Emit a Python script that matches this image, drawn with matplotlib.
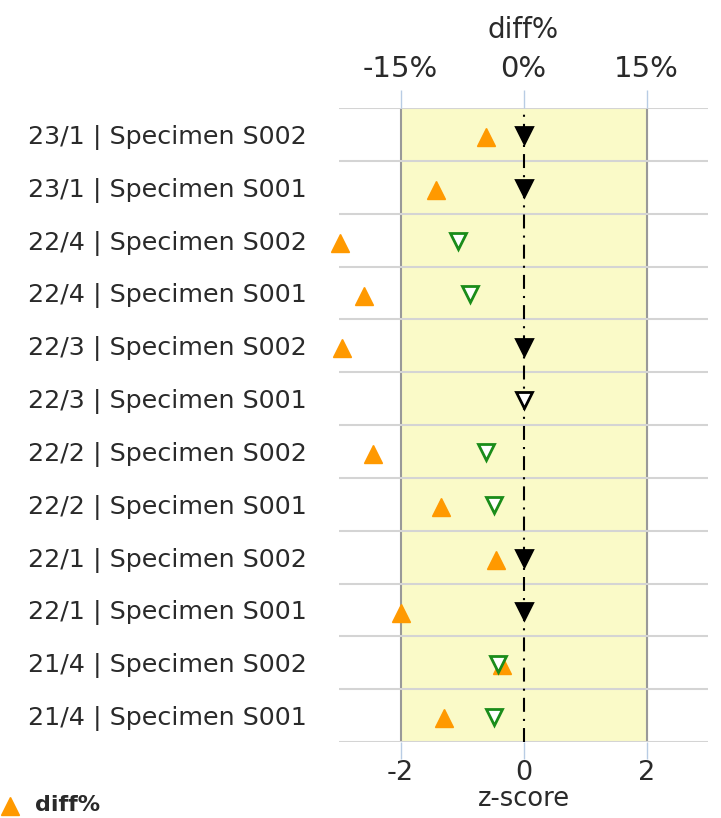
import numpy as np
import matplotlib
matplotlib.use('Agg')
import matplotlib.pyplot as plt
from matplotlib.lines import Line2D

# rows, top to bottom
labels = [
    "23/1 | Specimen S002", "23/1 | Specimen S001",
    "22/4 | Specimen S002", "22/4 | Specimen S001",
    "22/3 | Specimen S002", "22/3 | Specimen S001",
    "22/2 | Specimen S002", "22/2 | Specimen S001",
    "22/1 | Specimen S002", "22/1 | Specimen S001",
    "21/4 | Specimen S002", "21/4 | Specimen S001",
]
diff_pct = [-4.6, -10.7, -22.4, -19.5, -22.1, np.nan, -18.3, -10.1, -3.3, -14.9, -2.6, -9.7]
z_score = [0.0, 0.0, -1.06, -0.87, 0.0, 0.0, -0.61, -0.48, 0.0, 0.0, -0.41, -0.48]
z_status = ["ok", "ok", "warn", "warn", "ok", "open", "warn", "warn", "ok", "ok", "warn", "warn"]

z_ticks = [-2, 0, 2]
pct_ticks = [-15, 0, 15]
PCT_PER_Z = 7.5

ORANGE = '#ff9900'
GREEN = '#1a8c1a'
TICKC = '#b8cce4'
TXT = '#2a2a2a'

styles = {
    "ok": dict(mfc='black', mec='black'),
    "warn": dict(mfc='white', mec=GREEN),
    "open": dict(mfc='white', mec='black'),
}

fig = plt.figure(figsize=(7.21, 8.18), dpi=100)
ax = fig.add_axes([339 / 721, 1 - 742 / 818, 369 / 721, 634 / 818])

n = len(labels)
ypos = np.arange(n)

ax.set_xlim(-3, 3)
ax.set_ylim(n - 0.5, -0.5)

# acceptance band
ax.axvspan(-2, 2, color='#fafac8', zorder=0)
for xv in (-2, 2):
    ax.axvline(xv, color='#999999', lw=1.5, zorder=1)
ax.axvline(0, color='black', lw=1.5, linestyle=(0, (6.7, 3.4, 1, 3.4)), zorder=2)

# row separators
ax.set_yticks(np.arange(-0.5, n), minor=True)
ax.grid(which='minor', axis='y', color='#d4d4d4', lw=1.5, zorder=1)
ax.tick_params(axis='y', which='minor', length=0)

ax.set_yticks(ypos)
ax.set_yticklabels(labels, fontsize=18.3, color=TXT)
ax.tick_params(axis='y', which='major', length=0, pad=23)

ax.set_xticks(z_ticks)
ax.set_xticklabels([str(t) for t in z_ticks], fontsize=19.5, color=TXT)
ax.tick_params(axis='x', length=12, color=TICKC, width=1, pad=1)
ax.set_xlabel('z-score', fontsize=18.5, color=TXT, labelpad=0)

for s in ax.spines.values():
    s.set_visible(False)

# diff% markers
ax.plot(np.array(diff_pct) / PCT_PER_Z, ypos + 0.05, linestyle='none', marker='^',
        ms=13, color=ORANGE, mec=ORANGE, zorder=4, clip_on=False)

# z-score markers
for y, z, st in zip(ypos, z_score, z_status):
    ax.plot([z], [y + 0.02], linestyle='none', marker='v', ms=12, mew=2,
            zorder=5, clip_on=False, **styles[st])

# top diff% axis
ax2 = ax.twiny()
ax2.set_xlim(-3 * PCT_PER_Z, 3 * PCT_PER_Z)
ax2.set_xticks(pct_ticks)
ax2.set_xticklabels([f'{t}%' for t in pct_ticks], fontsize=21, color=TXT)
ax2.tick_params(axis='x', length=13, color=TICKC, width=1, pad=5)
ax2.set_xlabel('diff%', fontsize=20, color=TXT, labelpad=12)
for s in ax2.spines.values():
    s.set_visible(False)

# legend
fig.lines.append(Line2D([10 / 721], [1 - 806 / 818], transform=fig.transFigure,
                        marker='^', ms=13, color=ORANGE, linestyle='none'))
fig.text(35 / 721, 1 - 805 / 818, 'diff%', fontsize=16, weight='bold',
         color=TXT, va='center', ha='left')

fig.savefig('out.png', dpi=100)
